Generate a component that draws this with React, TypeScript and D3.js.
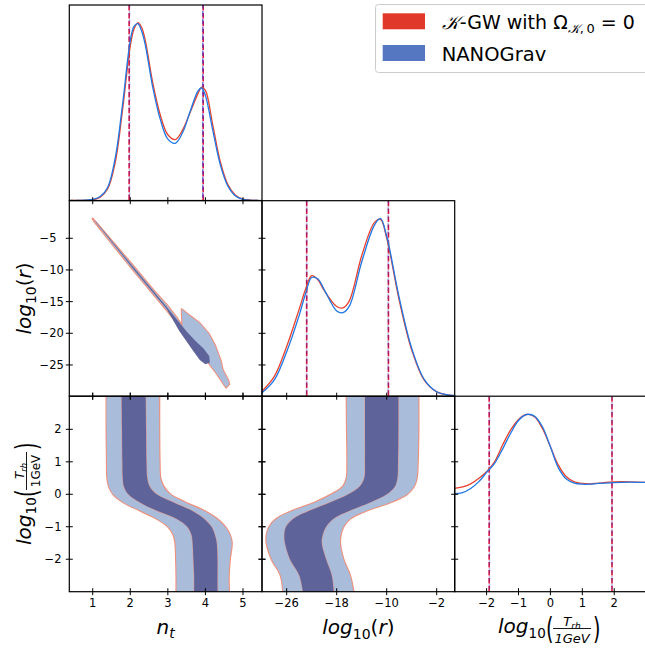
import React from "react";
import * as d3 from "d3";

// ---------------- data ----------------
// 1D marginal of n_t (normalised to peak = 1)
const ntGrid = [0.4, 0.6, 0.8, 1.0, 1.2, 1.4, 1.6, 1.8, 2.0, 2.1, 2.2, 2.3, 2.4, 2.6, 2.8, 3.0, 3.2, 3.4, 3.6, 3.8, 3.9, 4.0, 4.2, 4.4, 4.6, 4.8, 5.0, 5.2, 5.4];
const ntDensKGW = [0, 0, 0.001, 0.004, 0.019, 0.066, 0.215, 0.52, 0.87, 0.965, 1.0, 0.975, 0.9, 0.66, 0.48, 0.37, 0.343, 0.4, 0.5, 0.6, 0.638, 0.62, 0.42, 0.215, 0.088, 0.03, 0.008, 0.002, 0];
const ntDensNANO = [0, 0, 0.002, 0.006, 0.022, 0.075, 0.24, 0.55, 0.9, 0.98, 0.995, 0.955, 0.875, 0.635, 0.455, 0.345, 0.322, 0.385, 0.505, 0.615, 0.633, 0.59, 0.39, 0.198, 0.08, 0.025, 0.006, 0.001, 0];

// 1D marginal of log10(r)
const lrGrid = [-29.95, -28, -26, -24, -23, -22, -21, -20, -18, -17, -16, -14, -12, -11, -10, -8, -6, -4, -2, 0, 0.88];
const lrDensKGW = [0.028, 0.11, 0.28, 0.49, 0.6, 0.678, 0.655, 0.595, 0.505, 0.497, 0.535, 0.79, 0.975, 0.995, 0.89, 0.54, 0.26, 0.09, 0.024, 0.006, 0.003];
const lrDensNANO = [0.019, 0.09, 0.25, 0.455, 0.575, 0.668, 0.66, 0.6, 0.48, 0.47, 0.505, 0.755, 0.96, 1.0, 0.9, 0.555, 0.27, 0.095, 0.025, 0.006, 0.003];

// 1D marginal of log10(Trh/1GeV)
const trhGrid = [-3.05, -2.75, -2.5, -2.25, -2, -1.75, -1.5, -1.25, -1, -0.75, -0.5, -0.25, 0, 0.25, 0.5, 0.75, 1, 1.25, 1.5, 2, 2.5, 3.1];
const trhDensKGW = [0.581, 0.59, 0.607, 0.637, 0.675, 0.731, 0.825, 0.909, 0.969, 0.997, 0.984, 0.918, 0.815, 0.712, 0.647, 0.618, 0.609, 0.607, 0.611, 0.618, 0.618, 0.614];
const trhDensNANO = [0.551, 0.558, 0.581, 0.618, 0.671, 0.722, 0.802, 0.89, 0.963, 0.997, 0.988, 0.928, 0.815, 0.697, 0.634, 0.611, 0.605, 0.605, 0.609, 0.614, 0.616, 0.614];

// credible-interval markers (dashed lines)
const ntLinesKGW = [1.97, 3.94];
const ntLinesNANO = [1.98, 3.93];
const lrLinesKGW = [-22.8, -9.72];
const lrLinesNANO = [-22.8, -9.76];
const trhLinesKGW = [-1.92, 1.93];
const trhLinesNANO = [-1.91, 1.93];

// 2D contours vs log10(Trh): bands given as left / right edges at each Trh level
const trhLevels = [3.1, 2, 1, 0.5, 0.25, 0, -0.25, -0.5, -0.75, -1, -1.25, -1.5, -2, -2.5, -3.1];
const ntOuterLeft = [1.37, 1.37, 1.38, 1.39, 1.43, 1.55, 1.82, 2.26, 2.7, 3.01, 3.15, 3.2, 3.22, 3.23, 3.23];
const ntOuterRight = [2.77, 2.77, 2.78, 2.8, 2.88, 3.06, 3.46, 3.94, 4.3, 4.52, 4.65, 4.7, 4.65, 4.62, 4.63];
const ntInnerLeft = [1.77, 1.78, 1.79, 1.8, 1.83, 1.95, 2.26, 2.7, 3.23, 3.52, 3.63, 3.66, 3.68, 3.7, 3.7];
const ntInnerRight = [2.41, 2.42, 2.43, 2.45, 2.51, 2.7, 3.15, 3.63, 3.96, 4.16, 4.25, 4.3, 4.32, 4.32, 4.32];
const lrOuterLeft = [-16.4, -16.35, -16.29, -16.4, -16.93, -18.8, -21.47, -24.93, -27.6, -28.77, -29.2, -29.2, -28.4, -26.96, -26.53];
const lrOuterRight = [-4.93, -4.93, -5.04, -5.2, -5.63, -6.8, -9.47, -13.2, -15.87, -16.93, -17.36, -17.47, -16.93, -15.87, -15.23];
const lrInnerLeft = [-13.47, -13.47, -13.47, -13.57, -14.27, -16.13, -19.07, -22.27, -24.93, -26.1, -26.37, -26.27, -25.47, -23.97, -23.33];
const lrInnerRight = [-8.13, -8.13, -8.19, -8.29, -8.67, -10.0, -12.67, -15.87, -18.53, -19.71, -20.24, -20.4, -19.71, -18.8, -18.43];

// 2D contour n_t vs log10(r): closed polygons
const ntOuterPolyX = [1.0, 1.55, 2.08, 2.61, 2.97, 3.23, 3.39, 3.37, 3.59, 3.85, 4.08, 4.25, 4.4, 4.46, 4.61, 4.63, 4.55, 4.3, 3.85, 2.97, 2.08, 1.55, 1.04];
const lrOuterPolyY = [-1.9, -5.69, -9.38, -13.17, -15.54, -17.49, -18.96, -16.22, -17.27, -18.43, -20.01, -21.86, -24.23, -25.81, -27.49, -28.02, -28.54, -26.33, -22.86, -16.33, -10.01, -6.11, -2.32];
const ntInnerPolyX = [1.06, 2.08, 2.97, 3.5, 3.75, 3.95, 4.1, 4.12, 4.0, 3.85, 3.7, 3.3, 2.97, 2.08, 1.09];
const lrInnerPolyY = [-2.21, -9.55, -15.85, -19.7, -21.3, -22.4, -23.6, -24.6, -24.9, -24.2, -23.0, -19.6, -16.15, -9.85, -2.5];

// ticks
const ntTicks = [1, 2, 3, 4, 5];
const lrTicksX = [-26, -18, -10, -2];
const lrTicksY = [-5, -10, -15, -20, -25];
const trhTicks = [-2, -1, 0, 1, 2];

// ---------------- style ----------------
const FONT = "DejaVu Sans, sans-serif";
const RED = "#e8412c";
const BLUE = "#1f78e6";
const LIGHT = "#a9bddb";
const DARK = "#5e6399";
const EDGE = "#f0907c";
const DASH_RED = "#dc143c";
const DASH_BLUE = "#2a2ad0";

const fmt = (v: number) => (v < 0 ? "\u2212" + Math.abs(v) : String(v));

export default function App() {
  const W = 645, H = 648;
  const cx = [69.3, 262, 454.7];
  const cw = 192.7;
  const ry = [5, 200.7, 396.2];
  const rh = 195.5;

  const xNt = d3.scaleLinear().domain([0.377, 5.506]).range([cx[0], cx[0] + cw]);
  const xLr = d3.scaleLinear().domain([-29.95, 0.88]).range([cx[1], cx[1] + cw]);
  const xTrh = d3.scaleLinear().domain([-3.0, 3.04]).range([cx[2], cx[2] + cw]);
  const yLr = d3.scaleLinear().domain([-29.93, 0.93]).range([ry[1] + rh, ry[1]]);
  const yTrh = d3.scaleLinear().domain([-3.0, 3.02]).range([ry[2] + rh, ry[2]]);
  const yD = (r: number) => d3.scaleLinear().domain([0, 1.1]).range([ry[r] + rh, ry[r]]);

  const curve1D = (grid: number[], vals: number[], xs: any, ys: any) =>
    d3
      .line<number>()
      .x((_, i) => xs(grid[i]))
      .y((d) => ys(d))
      .curve(d3.curveCatmullRom.alpha(0.5))(vals) as string;

  const band = (left: number[], right: number[], xs: any) =>
    d3
      .area<number>()
      .y((d) => yTrh(d))
      .x0((_, i) => xs(left[i]))
      .x1((_, i) => xs(right[i]))
      .curve(d3.curveCatmullRom.alpha(0.5))(trhLevels) as string;

  const poly = (xsv: number[], ysv: number[]) =>
    d3
      .line<number>()
      .x((d) => xNt(d))
      .y((_, i) => yLr(ysv[i]))
      .curve(d3.curveLinearClosed)(xsv) as string;

  const TL = 3.5; // tick half length (in/out)

  const xTicks = (xs: any, vals: number[], y: number, key: string) =>
    vals.map((v) => (
      <line key={key + v} x1={xs(v)} x2={xs(v)} y1={y - TL} y2={y + TL} stroke="#000" strokeWidth={1} />
    ));
  const yTicks = (ys: any, vals: number[], x: number, key: string) =>
    vals.map((v) => (
      <line key={key + v} x1={x - TL} x2={x + TL} y1={ys(v)} y2={ys(v)} stroke="#000" strokeWidth={1} />
    ));

  const frame = (c: number, r: number) => (
    <rect key={`f${c}${r}`} x={cx[c]} y={ry[r]} width={cw} height={rh} fill="none" stroke="#000" strokeWidth={1.2} />
  );

  const vlines = (kgw: number[], nano: number[], xs: any, r: number, blueTop: boolean[]) =>
    kgw.map((v, i) => {
      const red = (
        <line key={"r" + i} x1={xs(v)} x2={xs(v)} y1={ry[r]} y2={ry[r] + rh} stroke={DASH_RED} strokeWidth={1.6} strokeDasharray="5.5,2.4" />
      );
      const blue = (
        <line key={"b" + i} x1={xs(nano[i])} x2={xs(nano[i])} y1={ry[r]} y2={ry[r] + rh} stroke={DASH_BLUE} strokeWidth={1.6} strokeDasharray="5.5,2.4" strokeDashoffset={2} opacity={blueTop[i] ? 0.6 : 0.3} />
      );
      return <g key={"v" + i}>{red}{blue}</g>;
    });

  const clip = (id: string, c: number, r: number) => (
    <clipPath id={id} key={id}>
      <rect x={cx[c]} y={ry[r]} width={cw} height={rh} />
    </clipPath>
  );

  const tickLabelSize = 11.5;

  // composite label log10(T_rh / 1GeV)
  const trhLabel = (x: number, y: number, rot: number, denomItalic: boolean, fracSize: number) => {
    const s = -51;
    const fc = s + 74;
    return (
      <g transform={`translate(${x},${y}) rotate(${rot})`} fontFamily={FONT}>
        <text x={s} y={0} fontSize={20} fontStyle="italic">log</text>
        <text x={s + 30.5} y={4.5} fontSize={13.5}>10</text>
        <text transform={`translate(${s + 48},6) scale(0.62,1)`} fontSize={31}>(</text>
        <text x={fc} y={-7} fontSize={fracSize} fontStyle="italic" textAnchor="middle">
          T<tspan fontSize={fracSize * 0.7} dy={2.5}>rh</tspan>
        </text>
        <line x1={fc - 19} x2={fc + 19} y1={-4.5} y2={-4.5} stroke="#000" strokeWidth={0.9} />
        <text x={fc} y={fracSize * 0.78} fontSize={fracSize} fontStyle={denomItalic ? "italic" : "normal"} textAnchor="middle">1GeV</text>
        <text transform={`translate(${fc + 21},6) scale(0.62,1)`} fontSize={31}>)</text>
      </g>
    );
  };

  return (
    <svg width={W} height={H} style={{ position: "absolute", left: 0, top: 0, background: "#fff" }} fontFamily={FONT}>
      <defs>
        {clip("c00", 0, 0)}
        {clip("c10", 0, 1)}
        {clip("c11", 1, 1)}
        {clip("c20", 0, 2)}
        {clip("c21", 1, 2)}
        {clip("c22", 2, 2)}
      </defs>

      {/* ---- 2D: n_t vs log10(r) ---- */}
      <g clipPath="url(#c10)">
        <path d={poly(ntOuterPolyX, lrOuterPolyY)} fill="none" stroke={EDGE} strokeWidth={2.2} strokeLinejoin="round" />
        <path d={poly(ntOuterPolyX, lrOuterPolyY)} fill={LIGHT} />
        <path d={poly(ntInnerPolyX, lrInnerPolyY)} fill={DARK} />
      </g>

      {/* ---- 2D: n_t vs Trh ---- */}
      <g clipPath="url(#c20)">
        <path d={band(ntOuterLeft, ntOuterRight, xNt)} fill="none" stroke={EDGE} strokeWidth={2.2} />
        <path d={band(ntOuterLeft, ntOuterRight, xNt)} fill={LIGHT} />
        <path d={band(ntInnerLeft, ntInnerRight, xNt)} fill="none" stroke={EDGE} strokeWidth={1.4} opacity={0.6} />
        <path d={band(ntInnerLeft, ntInnerRight, xNt)} fill={DARK} />
      </g>

      {/* ---- 2D: log10(r) vs Trh ---- */}
      <g clipPath="url(#c21)">
        <path d={band(lrOuterLeft, lrOuterRight, xLr)} fill="none" stroke={EDGE} strokeWidth={2.2} />
        <path d={band(lrOuterLeft, lrOuterRight, xLr)} fill={LIGHT} />
        <path d={band(lrInnerLeft, lrInnerRight, xLr)} fill="none" stroke={EDGE} strokeWidth={1.4} opacity={0.6} />
        <path d={band(lrInnerLeft, lrInnerRight, xLr)} fill={DARK} />
      </g>

      {/* ---- 1D: n_t ---- */}
      <g clipPath="url(#c00)">
        {vlines(ntLinesKGW, ntLinesNANO, xNt, 0, [false, true])}
        <path d={curve1D(ntGrid, ntDensKGW, xNt, yD(0))} fill="none" stroke={RED} strokeWidth={1.3} />
        <path d={curve1D(ntGrid, ntDensNANO, xNt, yD(0))} fill="none" stroke={BLUE} strokeWidth={1.3} />
      </g>

      {/* ---- 1D: log10(r) ---- */}
      <g clipPath="url(#c11)">
        {vlines(lrLinesKGW, lrLinesNANO, xLr, 1, [false, false])}
        <path d={curve1D(lrGrid, lrDensKGW, xLr, yD(1))} fill="none" stroke={RED} strokeWidth={1.3} />
        <path d={curve1D(lrGrid, lrDensNANO, xLr, yD(1))} fill="none" stroke={BLUE} strokeWidth={1.3} />
      </g>

      {/* ---- 1D: Trh ---- */}
      <g clipPath="url(#c22)">
        {vlines(trhLinesKGW, trhLinesNANO, xTrh, 2, [false, false])}
        <path d={curve1D(trhGrid, trhDensKGW, xTrh, yD(2))} fill="none" stroke={RED} strokeWidth={1.3} />
        <path d={curve1D(trhGrid, trhDensNANO, xTrh, yD(2))} fill="none" stroke={BLUE} strokeWidth={1.3} />
      </g>

      {/* frames */}
      {frame(0, 0)}
      {frame(0, 1)}
      {frame(1, 1)}
      {frame(0, 2)}
      {frame(1, 2)}
      {frame(2, 2)}

      {/* ticks of the 2D panels (all four sides, in-out) */}
      {xTicks(xNt, ntTicks, ry[1], "a")}
      {xTicks(xNt, ntTicks, ry[1] + rh, "b")}
      {yTicks(yLr, lrTicksY, cx[0], "c")}
      {yTicks(yLr, lrTicksY, cx[0] + cw, "d")}
      {xTicks(xNt, ntTicks, ry[2], "e")}
      {xTicks(xNt, ntTicks, ry[2] + rh, "f")}
      {yTicks(yTrh, trhTicks, cx[0], "g")}
      {yTicks(yTrh, trhTicks, cx[0] + cw, "h")}
      {xTicks(xLr, lrTicksX, ry[2], "i")}
      {xTicks(xLr, lrTicksX, ry[2] + rh, "j")}
      {yTicks(yTrh, trhTicks, cx[1], "k")}
      {yTicks(yTrh, trhTicks, cx[1] + cw, "l")}
      {xTicks(xTrh, trhTicks, ry[2] + rh, "m")}

      {/* tick labels */}
      {lrTicksY.map((v) => (
        <text key={"ly" + v} x={39.5} y={yLr(v)} dy="0.36em" fontSize={tickLabelSize}>{fmt(v)}</text>
      ))}
      {trhTicks.map((v) => (
        <text key={"ty" + v} x={61.5} y={yTrh(v)} dy="0.36em" fontSize={tickLabelSize} textAnchor="end">{fmt(v)}</text>
      ))}
      {ntTicks.map((v) => (
        <text key={"nx" + v} x={xNt(v)} y={607} fontSize={tickLabelSize} textAnchor="middle">{fmt(v)}</text>
      ))}
      {lrTicksX.map((v) => (
        <text key={"lx" + v} x={xLr(v)} y={607} fontSize={tickLabelSize} textAnchor="middle">{fmt(v)}</text>
      ))}
      {trhTicks.map((v) => (
        <text key={"tx" + v} x={xTrh(v)} y={607} fontSize={tickLabelSize} textAnchor="middle">{fmt(v)}</text>
      ))}

      {/* axis labels */}
      <text x={cx[0] + cw / 2} y={634} fontSize={20} textAnchor="middle" fontStyle="italic">
        n<tspan fontSize={14} dy={4}>t</tspan>
      </text>
      <text x={cx[1] + cw / 2} y={634} fontSize={20} textAnchor="middle">
        <tspan fontStyle="italic">log</tspan>
        <tspan fontSize={14} dy={4.5}>10</tspan>
        <tspan dy={-4.5}>(</tspan>
        <tspan fontStyle="italic">r</tspan>
        <tspan>)</tspan>
      </text>
      <text transform={`translate(31,${ry[1] + rh / 2}) rotate(-90)`} fontSize={20} textAnchor="middle">
        <tspan fontStyle="italic">log</tspan>
        <tspan fontSize={14} dy={4.5}>10</tspan>
        <tspan dy={-4.5}>(</tspan>
        <tspan fontStyle="italic">r</tspan>
        <tspan>)</tspan>
      </text>
      {trhLabel(cx[2] + cw / 2 - 2, 633, 0, true, 13)}
      {trhLabel(31, ry[2] + rh / 2, -90, false, 12)}

      {/* legend */}
      <rect x={375.5} y={4.5} width={300} height={68} rx={3} fill="#fff" fillOpacity={0.8} stroke="#cccccc" strokeWidth={1} />
      <rect x={382.7} y={13.3} width={42.3} height={16} fill="#e0392b" />
      <rect x={382.7} y={45} width={42.3} height={16} fill="#5577c2" />
      <text x={441.7} y={28.5} fontSize={19}>
        <tspan fontStyle="italic" fontFamily="DejaVu Serif, serif">𝒦</tspan>
        <tspan>-GW with Ω</tspan>
        <tspan fontSize={13} dy={4} fontStyle="italic">𝒦</tspan>
        <tspan fontSize={13}>,{"\u2009"}0</tspan>
        <tspan dy={-4}> = 0</tspan>
      </text>
      <text x={441.7} y={60.5} fontSize={19.5}>NANOGrav</text>
    </svg>
  );
}
